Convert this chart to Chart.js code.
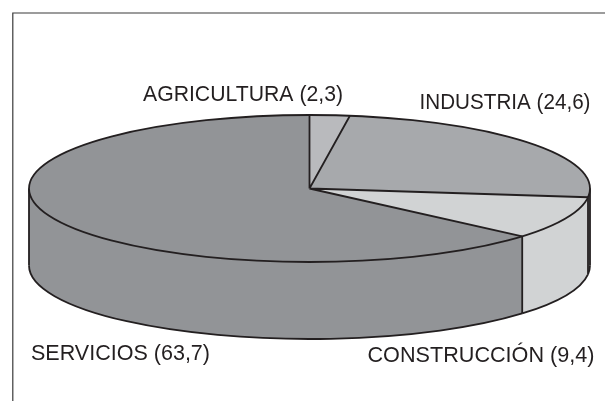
<!DOCTYPE html>
<html><head><meta charset="utf-8">
<style>html,body{margin:0;padding:0;background:#fff}canvas{display:block}</style>
<script src="https://cdn.jsdelivr.net/npm/chart.js@4"></script></head>
<body><canvas id="c" width="605" height="401"></canvas>
<script>
const categories = ['AGRICULTURA','INDUSTRIA','CONSTRUCCIÓN','SERVICIOS'];
const shares = [2.3,24.6,9.4,63.7];
const topColors = ['#b9babd','#a7a9ac','#d1d3d4','#929497'];
const labelAnchors = [[143,101],[419.5,108.5],[367.5,361.5],[31,360]];
const labelWidths = [200,171,227,179];
const G = {cx:309.5, cy:188.5, rx:280.5, ry:73.5, depth:77, ink:'#231f20', lw:1.8};

function labelOf(i){return categories[i]+' ('+shares[i].toFixed(1).replace('.',',')+')';}

const pie3d = {
  id:'pie3d',
  beforeDraw(chart){
    const c=chart.ctx;
    c.save();c.strokeStyle='#3a3a3a';c.lineWidth=1.2;
    c.beginPath();c.moveTo(605,13);c.lineTo(12.8,13);c.lineTo(12.8,401);c.stroke();c.restore();
  },
  beforeDatasetsDraw(chart){
    const c=chart.ctx, arcs=chart.getDatasetMeta(0).data;
    arcs.forEach((a,i)=>{
      const s=Math.max(a.startAngle,0), e=Math.min(a.endAngle,Math.PI);
      if(e<=s) return;
      c.save();
      c.beginPath();
      c.ellipse(G.cx,G.cy,G.rx,G.ry,0,s,e);
      c.lineTo(G.cx+G.rx*Math.cos(e),G.cy+G.depth+G.ry*Math.sin(e));
      c.ellipse(G.cx,G.cy+G.depth,G.rx,G.ry,0,e,s,true);
      c.closePath();
      c.fillStyle=topColors[i];c.fill();
      c.strokeStyle=G.ink;c.lineWidth=G.lw;
      c.beginPath();
      c.ellipse(G.cx,G.cy+G.depth,G.rx,G.ry,0,s,e);
      c.stroke();
      c.restore();
    });
    c.save();c.strokeStyle=G.ink;c.lineWidth=G.lw;c.beginPath();
    c.moveTo(G.cx-G.rx,G.cy);c.lineTo(G.cx-G.rx,G.cy+G.depth);
    c.moveTo(G.cx+G.rx,G.cy);c.lineTo(G.cx+G.rx,G.cy+G.depth);
    arcs.forEach(a=>{
      if(a.endAngle>0&&a.endAngle<Math.PI){
        const x=G.cx+G.rx*Math.cos(a.endAngle),y=G.cy+G.ry*Math.sin(a.endAngle);
        c.moveTo(x,y);c.lineTo(x,y+G.depth);
      }
    });
    c.stroke();c.restore();
    const a0=arcs[0];
    c.save();
    c.translate(G.cx,G.cy);
    c.scale(G.rx/a0.outerRadius,G.ry/a0.outerRadius);
    c.translate(-a0.x,-a0.y);
  },
  afterDatasetsDraw(chart){
    const c=chart.ctx, arcs=chart.getDatasetMeta(0).data;
    c.restore();
    c.save();c.strokeStyle=G.ink;c.lineWidth=G.lw;c.lineJoin='round';
    c.beginPath();c.ellipse(G.cx,G.cy,G.rx,G.ry,0,0,Math.PI*2);c.stroke();
    c.beginPath();
    arcs.forEach(a=>{
      c.moveTo(G.cx,G.cy);
      c.lineTo(G.cx+G.rx*Math.cos(a.startAngle),G.cy+G.ry*Math.sin(a.startAngle));
    });
    c.stroke();c.restore();
    c.save();c.fillStyle=G.ink;c.font='22px "Liberation Sans"';c.textBaseline='alphabetic';
    categories.forEach((n,i)=>{
      const t=labelOf(i), w=c.measureText(t).width;
      c.save();
      c.translate(labelAnchors[i][0],labelAnchors[i][1]);
      c.scale(labelWidths[i]/w,1);
      c.fillText(t,0,0);
      c.restore();
    });
    c.restore();
  }
};

new Chart(document.getElementById('c'),{
  type:'pie',
  data:{labels:categories,datasets:[{data:shares,backgroundColor:topColors,borderWidth:0}]},
  options:{responsive:false,animation:false,layout:{padding:0},
    plugins:{legend:{display:false},tooltip:{enabled:false}}},
  plugins:[pie3d]
});
</script></body></html>
